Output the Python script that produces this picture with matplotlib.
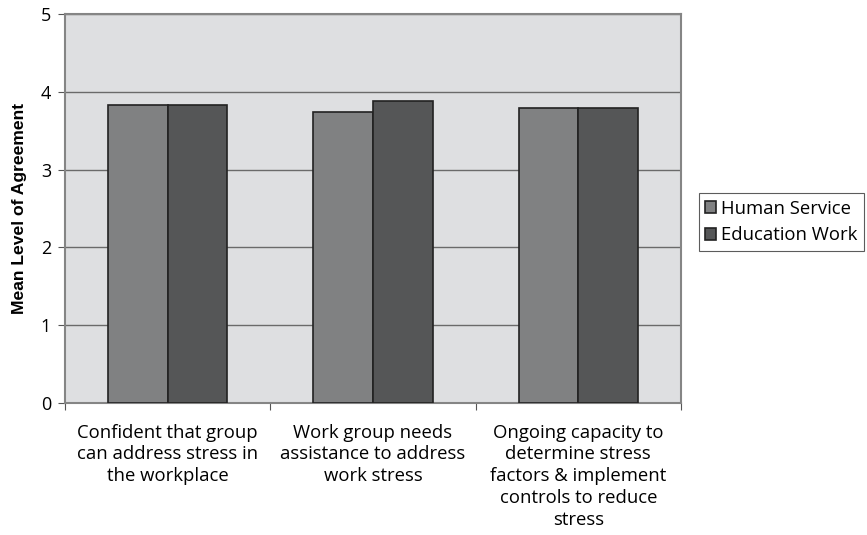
import matplotlib.pyplot as plt
import numpy as np

# Mean agreement scores per statement
categories = [
    "Confident that group\ncan address stress in\nthe workplace",
    "Work group needs\nassistance to address\nwork stress",
    "Ongoing capacity to\ndetermine stress\nfactors & implement\ncontrols to reduce\nstress",
]
human_service = [3.84, 3.74, 3.80]
education_work = [3.84, 3.89, 3.80]
series_names = ["Human Service", "Education Work"]

plt.rcParams["font.family"] = ["Open Sans", "DejaVu Sans"]

fig = plt.figure(figsize=(8.67, 5.35), dpi=100)
ax = fig.add_axes([0.075, 0.247, 0.7105, 0.726])

x = np.arange(len(categories))
w = 0.29
ax.bar(x - w / 2, human_service, w, color="#808182", edgecolor="#222222",
       linewidth=1.2, label=series_names[0], zorder=3)
ax.bar(x + w / 2, education_work, w, color="#555657", edgecolor="#222222",
       linewidth=1.2, label=series_names[1], zorder=3)

ax.set_facecolor("#dedfe1")
ax.set_xlim(-0.5, len(categories) - 0.5)
ax.set_ylim(0, 5)
ax.set_yticks(range(6))
ax.yaxis.grid(True, color="#6a6a6a", linewidth=1.0, zorder=1)

# category boundaries as tick marks, labels centred under each group
ax.set_xticks(np.arange(-0.5, len(categories), 1.0))
ax.set_xticklabels([])
ax.set_xticks(x, minor=True)
ax.set_xticklabels(categories, minor=True, fontsize=13.3, linespacing=1.27)
ax.tick_params(axis="x", which="minor", length=0, pad=15)
ax.tick_params(axis="x", which="major", length=5, color="#555555", direction="out")
ax.tick_params(axis="y", length=5, color="#555555", labelsize=13, pad=5)

for side in ["left", "top", "right", "bottom"]:
    ax.spines[side].set_color("#858585")
    ax.spines[side].set_linewidth(1.5)

ax.set_ylabel("Mean Level of Agreement", fontsize=12.6, fontweight="bold",
              family="Liberation Sans", labelpad=10)

leg = ax.legend(loc="center left", bbox_to_anchor=(0.806, 0.585),
                bbox_transform=fig.transFigure, fontsize=13.3, frameon=True,
                fancybox=False, edgecolor="#333333", handlelength=0.6,
                handleheight=0.6, handletextpad=0.25, borderpad=0.35,
                labelspacing=0.45, borderaxespad=0)
leg.get_frame().set_linewidth(0.8)

fig.savefig("out.png", dpi=100)
